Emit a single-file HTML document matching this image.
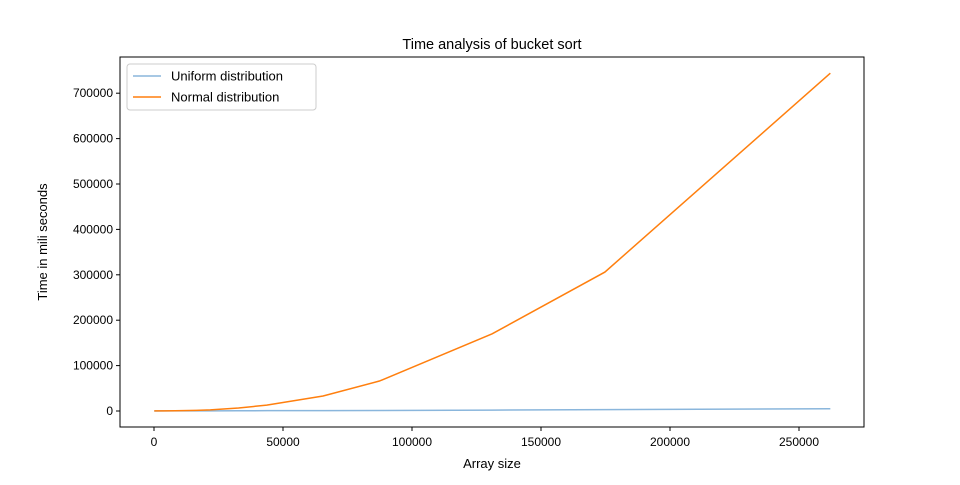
<!DOCTYPE html>
<html><head><meta charset="utf-8"><style>
body{margin:0;background:#fff;font-family:"Liberation Sans",sans-serif}
text{font-family:"Liberation Sans",sans-serif;fill:#000}
</style></head><body>
<svg id="c" width="960" height="480"></svg>
<script>
const sizes=[100,4096,8192,16384,21845,32768,43690,65536,87381,131072,174763,262144];
const uniform=[100,150,200,300,350,500,700,900,1200,2000,3000,5000];
const normal=[200,300,600,1500,2500,6500,13000,33000,66000,170000,306000,744000];
const xTicks=[0,50000,100000,150000,200000,250000];
const yTicks=[0,100000,200000,300000,400000,500000,600000,700000];
const X=v=>154+v*129/50000, Y=v=>411-v*45.4/100000;
const svg=document.getElementById('c'),NS='http://www.w3.org/2000/svg';
function mk(t,a,p){const e=document.createElementNS(NS,t);for(const k in a)e.setAttribute(k,a[k]);(p||svg).appendChild(e);return e;}
const frame=mk('rect',{x:120,y:57,width:744,height:370,fill:'none',stroke:'#000','stroke-width':1});


xTicks.forEach(v=>{const x=X(v);
const l=mk('line',{x1:x,x2:x,y1:427,y2:431,stroke:'#000'});


const t=mk('text',{x:x,y:446,'text-anchor':'middle','font-size':12});t.textContent=v;

});
yTicks.forEach(v=>{const y=Y(v);
const l=mk('line',{x1:116,x2:120,y1:y,y2:y,stroke:'#000'});


const t=mk('text',{x:113,y:y+4,'text-anchor':'end','font-size':12});t.textContent=v;

});
function line(vals,col,name){const p=mk('polyline',{points:sizes.map((s,i)=>X(s)+','+Y(vals[i])).join(' '),fill:'none',stroke:col,'stroke-width':1.5});

}
line(uniform,'#8ab6dc','uniform-line');
line(normal,'#ff7f0e','normal-line');
const title=mk('text',{x:492,y:49,'text-anchor':'middle','font-size':14.5});title.textContent='Time analysis of bucket sort';


const xl=mk('text',{x:492,y:468,'text-anchor':'middle','font-size':13});xl.textContent='Array size';


const yl=mk('text',{x:47,y:242,'text-anchor':'middle','font-size':13,transform:'rotate(-90 47 242)'});yl.textContent='Time in mili seconds';


const lg=mk('rect',{x:127,y:64,width:189,height:46,rx:3,fill:'#fff',stroke:'#ccc'});


[['Uniform distribution','#8ab6dc',76],['Normal distribution','#ff7f0e',97]].forEach(([n,c,y])=>{
const l=mk('line',{x1:133,x2:161,y1:y,y2:y,stroke:c,'stroke-width':1.5});


const t=mk('text',{x:171,y:y+4.5,'font-size':13});t.textContent=n;

});
</script>
</body></html>
